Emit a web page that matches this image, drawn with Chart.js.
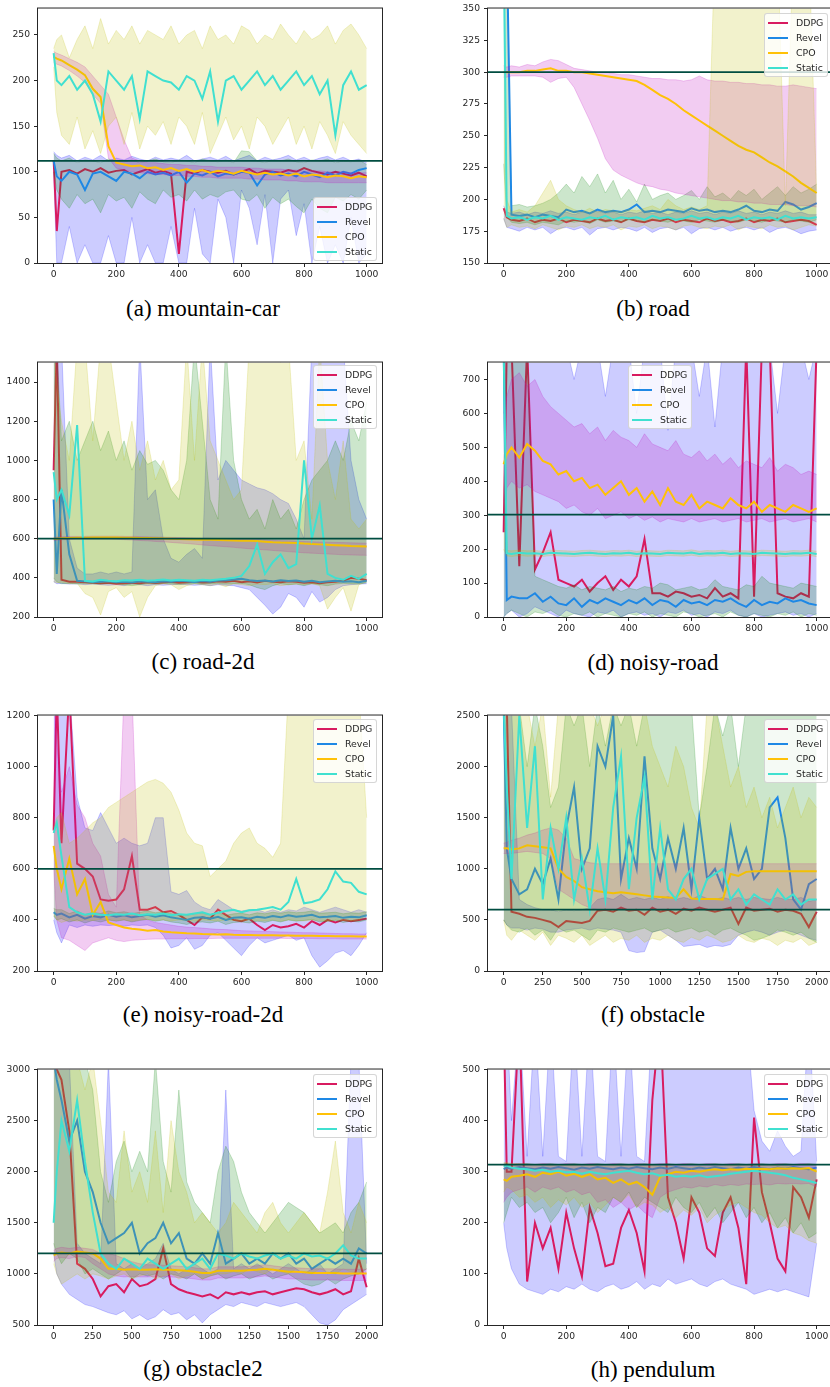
<!DOCTYPE html>
<html>
<head>
<meta charset="utf-8">
<title>Cost curves per environment</title>
<script src="https://cdn.jsdelivr.net/npm/chart.js@4.4.1/dist/chart.umd.min.js"></script>
<style>
  html, body { margin: 0; padding: 0; background: #fff; overflow: hidden; }
  body { width: 830px; height: 1387px; position: relative; font-family: "DejaVu Sans", sans-serif; }
  canvas.panel { position: absolute; }
  .caption {
    position: absolute; width: 300px; text-align: center; white-space: nowrap;
    font-family: "Liberation Serif", "Times New Roman", serif; font-size: 23px; line-height: 24px; color: #000;
  }
  .legend {
    position: absolute; box-sizing: border-box; width: 64px; padding: 1px 0 1px 3px;
    background: rgba(255,255,255,0.8); border: 1px solid rgba(204,204,204,0.8); border-radius: 3px;
  }
  .legend .row { height: 15px; display: flex; align-items: center; font-size: 9.4px; color: #262626; }
  .legend .swatch { display: block; width: 20px; height: 2px; margin-right: 8px; }
</style>
</head>
<body>
<script>
// ---------- Shared x grids / ticks ----------
var STEPS_1K = [0, 10, 25, 50, 75, 100, 125, 150, 175, 200, 225, 250, 275, 300,
  325, 350, 375, 400, 425, 450, 475, 500, 525, 550, 575, 600, 625, 650,
  675, 700, 725, 750, 775, 800, 825, 850, 875, 900, 925, 950, 975, 1000];
var STEPS_2K = [0, 20, 50, 100, 150, 200, 250, 300, 350, 400, 450, 500, 550, 600,
  650, 700, 750, 800, 850, 900, 950, 1000, 1050, 1100, 1150, 1200, 1250, 1300,
  1350, 1400, 1450, 1500, 1550, 1600, 1650, 1700, 1750, 1800, 1850, 1900, 1950, 2000];
var X_TICKS_1K = [0, 200, 400, 600, 800, 1000];
var X_TICKS_2K = [0, 250, 500, 750, 1000, 1250, 1500, 1750, 2000];

var ALGORITHMS = ["DDPG", "Revel", "CPO", "Static"];

// ---------- (a) mountain-car ----------
var MC_Y_TICKS = [0, 50, 100, 150, 200, 250];
var MC_LIMIT = 112;
var mcDdpg = [113, 35, 100, 102, 98, 103, 100, 104, 99, 101, 102, 97, 100, 103,
  99, 101, 98, 10, 100, 98, 102, 100, 99, 101, 97, 100, 103, 98,
  101, 100, 99, 102, 100, 104, 101, 99, 97, 100, 98, 96, 99, 95];
var mcDdpgHi = [122, 118, 115, 118, 112, 116, 113, 118, 112, 115, 113, 117, 114, 112,
  116, 113, 115, 113, 118, 112, 114, 116, 113, 117, 112, 115, 118, 112,
  116, 113, 115, 118, 113, 116, 112, 115, 117, 113, 116, 112, 114, 110];
var mcDdpgLo = [100, 0, 0, 40, 0, 20, 0, 0, 30, 0, 0, 50, 0, 20,
  0, 0, 40, 0, 0, 60, 10, 0, 70, 50, 0, 80, 60, 20,
  75, 0, 70, 80, 30, 65, 0, 40, 0, 20, 0, 50, 0, 10];
var mcRevel = [112, 95, 90, 100, 97, 80, 98, 100, 95, 90, 100, 98, 93, 100,
  97, 99, 96, 100, 88, 98, 96, 100, 95, 98, 97, 100, 99, 85,
  97, 100, 96, 98, 95, 100, 97, 94, 99, 96, 100, 98, 102, 104];
var mcRevelHi = [120, 115, 112, 115, 110, 113, 112, 110, 114, 112, 111, 113, 110, 112,
  114, 111, 110, 113, 112, 110, 114, 112, 111, 113, 110, 123, 122, 112,
  110, 113, 112, 114, 111, 110, 113, 112, 114, 110, 112, 111, 113, 108];
var mcRevelLo = [100, 80, 70, 60, 75, 65, 70, 55, 75, 68, 72, 60, 78, 70,
  65, 80, 72, 75, 68, 80, 70, 75, 72, 78, 80, 70, 68, 75,
  60, 72, 65, 70, 62, 55, 70, 60, 55, 72, 68, 75, 70, 80];
var mcCpo = [226, 224, 222, 217, 212, 206, 191, 182, 128, 110, 108, 106, 107, 104,
  105, 102, 104, 101, 103, 100, 102, 99, 101, 100, 98, 101, 99, 97,
  99, 97, 98, 96, 98, 95, 97, 96, 94, 96, 95, 93, 95, 94];
var mcCpoHi = [232, 230, 228, 224, 220, 215, 205, 195, 185, 160, 135, 115, 112, 110,
  110, 109, 108, 108, 107, 107, 106, 106, 105, 105, 105, 105, 104, 104,
  103, 103, 103, 102, 102, 101, 101, 101, 100, 100, 100, 99, 99, 99];
var mcCpoLo = [220, 218, 216, 211, 205, 198, 185, 175, 115, 104, 102, 100, 99, 98,
  97, 97, 96, 96, 95, 95, 94, 94, 93, 93, 93, 93, 92, 92,
  91, 91, 91, 90, 90, 89, 89, 89, 88, 88, 88, 88, 88, 88];
var mcStatic = [230, 200, 195, 205, 190, 200, 185, 155, 210, 200, 190, 205, 158, 210,
  205, 200, 198, 190, 205, 200, 180, 210, 155, 200, 205, 190, 200, 210,
  195, 205, 190, 200, 210, 195, 205, 185, 200, 140, 195, 210, 190, 195];
var mcStaticHi = [235, 245, 250, 225, 245, 260, 235, 268, 240, 255, 245, 260, 240, 255,
  250, 245, 260, 240, 250, 255, 235, 260, 245, 250, 240, 260, 255, 240,
  250, 245, 262, 250, 240, 255, 245, 250, 260, 240, 255, 262, 250, 235];
var mcStaticLo = [215, 165, 140, 130, 160, 125, 145, 120, 150, 160, 130, 165, 125, 150,
  140, 155, 130, 160, 150, 130, 165, 120, 140, 160, 135, 150, 125, 160,
  150, 130, 145, 160, 130, 150, 125, 155, 140, 120, 155, 140, 130, 120];

// ---------- (b) road ----------
var RD_Y_TICKS = [150, 175, 200, 225, 250, 275, 300, 325, 350];
var RD_LIMIT = 300;
var rdDdpg = [193, 186, 184, 183, 185, 182, 184, 183, 185, 182, 184, 183, 182, 185,
  183, 184, 182, 185, 183, 182, 184, 183, 185, 182, 184, 183, 182, 185,
  183, 184, 182, 183, 185, 182, 184, 183, 185, 182, 183, 184, 183, 180];
var rdDdpgHi = [195, 190, 189, 190, 188, 190, 189, 191, 189, 190, 188, 190, 189, 191,
  189, 190, 188, 190, 189, 191, 189, 190, 188, 190, 189, 191, 189, 190,
  188, 190, 189, 191, 189, 190, 188, 190, 189, 191, 189, 190, 188, 188];
var rdDdpgLo = [185, 178, 177, 175, 178, 176, 178, 173, 177, 178, 176, 178, 172, 177,
  178, 176, 178, 177, 175, 178, 174, 177, 178, 176, 178, 173, 177, 178,
  176, 178, 175, 177, 178, 176, 178, 174, 177, 178, 176, 173, 175, 176];
var rdRevel = [400, 400, 188, 187, 188, 186, 188, 187, 186, 192, 190, 191, 189, 192,
  190, 191, 190, 192, 196, 190, 191, 190, 192, 191, 190, 193, 191, 192,
  190, 191, 190, 192, 195, 191, 190, 192, 191, 198, 196, 192, 194, 197];
var rdRevelHi = [400, 400, 195, 196, 194, 195, 197, 200, 205, 212, 205, 218, 210, 220,
  205, 215, 200, 208, 198, 212, 200, 203, 205, 200, 203, 207, 200, 210,
  202, 205, 200, 207, 203, 208, 200, 205, 210, 203, 210, 205, 208, 212];
var rdRevelLo = [228, 186, 182, 181, 182, 180, 182, 181, 180, 183, 182, 183, 181, 184,
  182, 183, 182, 184, 183, 182, 184, 183, 182, 184, 183, 182, 184, 183,
  182, 184, 183, 182, 184, 183, 182, 184, 183, 182, 184, 183, 182, 184];
var rdCpo = [300, 300, 300, 300, 301, 301, 302, 303, 301, 301, 300, 300, 299, 298,
  297, 296, 295, 294, 293, 290, 286, 282, 279, 275, 270, 266, 262, 258,
  254, 250, 246, 242, 239, 237, 233, 229, 226, 222, 218, 213, 209, 205];
var rdCpoHi = [305, 304, 305, 304, 306, 305, 308, 310, 309, 306, 303, 302, 301, 300,
  300, 299, 298, 298, 297, 296, 295, 295, 294, 294, 293, 294, 297, 294,
  293, 293, 292, 292, 291, 291, 290, 290, 289, 289, 290, 289, 288, 287];
var rdCpoLo = [296, 296, 297, 297, 297, 297, 296, 292, 295, 296, 288, 275, 262, 248,
  232, 223, 219, 216, 213, 211, 210, 208, 207, 205, 204, 203, 202, 201,
  200, 199, 199, 198, 198, 197, 197, 196, 196, 196, 195, 195, 195, 194];
var rdStatic = [400, 187, 185, 186, 184, 186, 185, 187, 184, 186, 185, 184, 186, 185,
  187, 184, 186, 185, 186, 184, 187, 185, 186, 184, 185, 187, 185, 186,
  184, 186, 185, 187, 184, 186, 185, 186, 184, 187, 185, 186, 185, 186];
var rdStaticHi = [400, 200, 190, 192, 190, 195, 205, 215, 200, 195, 192, 190, 193, 190,
  192, 191, 190, 192, 191, 193, 195, 192, 200, 195, 192, 194, 192, 195,
  400, 400, 400, 400, 400, 400, 400, 400, 400, 195, 400, 400, 400, 205];
var rdStaticLo = [185, 178, 180, 178, 179, 177, 180, 178, 176, 179, 178, 180, 177, 179,
  178, 180, 176, 179, 178, 180, 177, 179, 178, 176, 179, 180, 178, 177,
  179, 178, 180, 176, 179, 178, 177, 180, 178, 179, 176, 178, 180, 179];

// ---------- (c) road-2d ----------
var R2_Y_TICKS = [200, 400, 600, 800, 1000, 1200, 1400];
var R2_LIMIT = 600;
var r2Ddpg = [950, 1600, 390, 380, 380, 378, 375, 372, 375, 370, 373, 375, 372, 378,
  374, 376, 380, 375, 378, 380, 376, 378, 382, 380, 385, 378, 382, 376,
  385, 380, 378, 382, 380, 375, 378, 372, 378, 380, 385, 400, 395, 388];
var r2DdpgHi = [1600, 1600, 1600, 600, 450, 420, 420, 430, 420, 430, 420, 430, 1600, 800,
  850, 600, 500, 480, 520, 550, 500, 1600, 900, 1000, 950, 900, 880, 860,
  850, 830, 800, 780, 700, 600, 1600, 1600, 1600, 1600, 1600, 1000, 800, 700];
var r2DdpgLo = [380, 370, 372, 368, 370, 365, 368, 365, 362, 365, 360, 368, 365, 360,
  365, 362, 365, 368, 365, 362, 365, 360, 365, 362, 360, 350, 340, 300,
  260, 215, 250, 320, 300, 250, 330, 276, 300, 340, 360, 365, 368, 370];
var r2Revel = [800, 420, 850, 520, 385, 382, 378, 380, 383, 378, 380, 376, 382, 380,
  378, 383, 380, 385, 382, 378, 384, 380, 386, 388, 392, 395, 388, 384,
  386, 382, 388, 384, 386, 380, 385, 378, 382, 385, 380, 383, 378, 385];
var r2RevelHi = [1600, 1600, 1100, 1200, 1000, 1100, 1200, 1050, 1150, 1000, 1100, 950, 1050, 980,
  1000, 950, 850, 800, 1000, 1600, 1200, 800, 700, 1600, 1000, 800, 700, 750,
  650, 800, 700, 750, 650, 800, 900, 950, 1000, 1100, 1000, 1200, 1100, 1300];
var r2RevelLo = [400, 380, 370, 372, 368, 372, 370, 368, 372, 370, 365, 360, 365, 370,
  368, 372, 370, 365, 370, 372, 368, 370, 372, 368, 370, 372, 365, 350,
  340, 360, 370, 365, 368, 360, 370, 365, 360, 368, 372, 370, 368, 375];
var r2Cpo = [600, 600, 602, 604, 605, 605, 606, 606, 606, 606, 605, 605, 604, 603,
  602, 601, 600, 598, 597, 596, 595, 594, 593, 592, 591, 590, 589, 588,
  585, 582, 580, 579, 578, 575, 573, 571, 569, 567, 565, 563, 562, 560];
var r2CpoHi = [608, 608, 610, 612, 612, 612, 613, 613, 613, 613, 612, 612, 611, 610,
  609, 608, 607, 606, 605, 604, 603, 602, 601, 600, 599, 598, 597, 596,
  594, 592, 590, 589, 588, 586, 584, 583, 582, 581, 580, 579, 578, 577];
var r2CpoLo = [590, 592, 594, 596, 598, 598, 598, 598, 598, 597, 595, 593, 591, 589,
  586, 584, 581, 578, 575, 572, 568, 565, 562, 559, 556, 552, 549, 546,
  543, 540, 537, 534, 531, 528, 526, 524, 522, 520, 518, 517, 516, 515];
var r2Static = [940, 800, 850, 720, 1180, 385, 382, 390, 385, 383, 388, 386, 390, 385,
  388, 392, 386, 390, 388, 385, 390, 388, 392, 395, 400, 410, 460, 570,
  420, 480, 520, 450, 470, 1000, 600, 770, 420, 400, 390, 410, 395, 420];
var r2StaticHi = [1600, 1400, 1200, 1000, 1600, 1600, 1100, 1600, 1600, 1300, 1000, 1200, 950, 1100,
  900, 1000, 850, 900, 1600, 1000, 1600, 1100, 1000, 900, 800, 850, 1600, 1600,
  1600, 1600, 1500, 1600, 1000, 1100, 700, 1600, 1000, 800, 1100, 700, 650, 700];
var r2StaticLo = [380, 375, 378, 370, 372, 320, 300, 210, 330, 350, 300, 330, 200, 300,
  360, 370, 365, 340, 360, 370, 365, 360, 368, 355, 370, 365, 360, 368,
  365, 370, 360, 365, 368, 365, 370, 360, 240, 300, 350, 230, 365, 380];

// ---------- (d) noisy-road ----------
var NR_Y_TICKS = [0, 100, 200, 300, 400, 500, 600, 700];
var NR_LIMIT = 302;
var nrDdpg = [250, 800, 800, 150, 800, 140, 190, 250, 110, 100, 90, 110, 75, 100,
  120, 80, 110, 90, 120, 230, 70, 70, 60, 75, 70, 60, 65, 55,
  85, 60, 70, 55, 800, 60, 800, 800, 70, 60, 55, 70, 60, 800];
var nrDdpgHi = [800, 800, 800, 800, 800, 800, 800, 800, 800, 800, 700, 800, 800, 800,
  650, 800, 800, 800, 600, 800, 800, 800, 550, 800, 800, 800, 650, 800,
  560, 800, 800, 800, 800, 800, 800, 800, 600, 800, 800, 800, 700, 800];
var nrDdpgLo = [0, 10, 20, 0, 10, 30, 20, 10, 0, 20, 10, 5, 0, 15,
  10, 20, 0, 10, 15, 5, 10, 0, 15, 10, 20, 5, 10, 0,
  15, 10, 20, 5, 0, 10, 0, 5, 10, 15, 5, 10, 0, 10];
var nrRevel = [800, 50, 60, 55, 55, 70, 45, 60, 40, 35, 55, 30, 50, 40,
  55, 45, 35, 50, 40, 55, 35, 50, 45, 30, 50, 40, 45, 35,
  50, 45, 55, 40, 30, 50, 35, 45, 40, 55, 45, 50, 40, 35];
var nrRevelHi = [800, 800, 800, 800, 800, 120, 110, 100, 90, 85, 95, 80, 90, 85,
  80, 90, 75, 85, 80, 90, 85, 100, 95, 80, 85, 90, 80, 85,
  110, 90, 85, 80, 95, 90, 120, 100, 95, 90, 85, 100, 95, 90];
var nrRevelLo = [0, 10, 20, 10, 0, 15, 10, 20, 5, 0, 10, 5, 15, 0,
  10, 5, 0, 10, 5, 15, 0, 10, 5, 0, 15, 10, 0, 5,
  10, 0, 15, 5, 0, 10, 5, 0, 10, 5, 15, 0, 10, 5];
var nrCpo = [450, 480, 500, 470, 510, 490, 460, 450, 420, 430, 400, 410, 380, 390,
  360, 380, 400, 360, 380, 340, 370, 330, 380, 340, 330, 360, 320, 340,
  330, 320, 350, 330, 320, 340, 310, 330, 320, 310, 330, 320, 310, 320];
var nrCpoHi = [600, 650, 700, 720, 680, 700, 650, 620, 600, 580, 560, 570, 540, 560,
  520, 550, 530, 520, 500, 540, 510, 500, 490, 520, 480, 470, 490, 460,
  480, 450, 470, 440, 460, 450, 440, 470, 430, 450, 440, 420, 430, 420];
var nrCpoLo = [250, 380, 400, 380, 390, 370, 360, 350, 340, 320, 330, 310, 300, 320,
  290, 300, 310, 290, 300, 285, 295, 280, 290, 285, 280, 290, 280, 285,
  290, 280, 285, 290, 280, 285, 290, 280, 285, 290, 280, 285, 290, 280];
var nrStatic = [800, 188, 186, 189, 187, 188, 186, 189, 188, 187, 186, 188, 189, 187,
  186, 188, 187, 189, 186, 188, 187, 186, 189, 188, 187, 190, 186, 188,
  187, 189, 186, 188, 187, 186, 189, 188, 187, 186, 188, 187, 189, 186];
var nrStaticHi = [800, 196, 195, 197, 195, 196, 194, 197, 196, 195, 194, 196, 197, 195,
  194, 196, 195, 197, 194, 196, 195, 194, 197, 196, 195, 198, 194, 196,
  195, 197, 194, 196, 195, 194, 197, 196, 195, 194, 196, 195, 197, 194];
var nrStaticLo = [200, 180, 178, 181, 179, 180, 178, 181, 180, 179, 178, 180, 181, 179,
  178, 180, 179, 181, 178, 180, 179, 178, 181, 180, 179, 182, 178, 180,
  179, 181, 178, 180, 179, 178, 181, 180, 179, 178, 180, 179, 181, 178];

// ---------- (e) noisy-road-2d ----------
var N2_Y_TICKS = [200, 400, 600, 800, 1000, 1200];
var N2_LIMIT = 600;
var n2Ddpg = [750, 1300, 700, 1300, 620, 600, 570, 480, 475, 480, 520, 650, 440, 440,
  450, 430, 435, 420, 400, 380, 410, 405, 440, 420, 400, 395, 405, 380,
  360, 380, 370, 375, 385, 370, 395, 380, 400, 390, 400, 395, 400, 405];
var n2DdpgHi = [1300, 1300, 1300, 1300, 880, 760, 750, 820, 760, 700, 720, 700, 690, 700,
  800, 800, 510, 500, 515, 470, 450, 440, 480, 460, 440, 435, 440, 440,
  430, 440, 430, 440, 435, 450, 440, 430, 440, 450, 440, 430, 440, 430];
var n2DdpgLo = [400, 350, 310, 380, 370, 380, 375, 380, 378, 380, 375, 380, 378, 380,
  370, 340, 290, 300, 330, 285, 300, 340, 350, 320, 290, 260, 300, 330,
  310, 320, 330, 340, 320, 330, 260, 215, 240, 270, 280, 260, 300, 350];
var n2Revel = [430, 420, 425, 410, 420, 405, 415, 410, 420, 412, 418, 410, 415, 420,
  412, 418, 410, 405, 400, 408, 410, 405, 412, 400, 408, 410, 405, 412,
  408, 415, 410, 418, 412, 415, 420, 410, 412, 415, 408, 412, 410, 418];
var n2RevelHi = [445, 440, 440, 425, 435, 420, 430, 425, 435, 428, 432, 425, 430, 435,
  428, 432, 425, 420, 418, 424, 426, 420, 428, 418, 424, 426, 420, 428,
  424, 430, 426, 432, 428, 430, 435, 426, 428, 430, 424, 428, 426, 432];
var n2RevelLo = [415, 400, 405, 392, 400, 388, 398, 392, 400, 395, 400, 392, 398, 402,
  395, 400, 392, 388, 382, 390, 392, 388, 395, 382, 390, 392, 388, 395,
  390, 398, 392, 400, 395, 398, 402, 392, 395, 398, 390, 395, 392, 400];
var n2Cpo = [690, 600, 520, 640, 500, 560, 420, 470, 390, 380, 370, 365, 362, 358,
  360, 355, 352, 350, 348, 347, 345, 344, 343, 344, 342, 341, 341, 340,
  340, 340, 339, 339, 338, 338, 338, 337, 337, 336, 336, 336, 335, 335];
var n2CpoHi = [1300, 1100, 900, 1000, 850, 800, 700, 650, 500, 450, 1300, 1300, 420, 400,
  390, 385, 380, 375, 372, 370, 368, 365, 363, 362, 360, 358, 357, 356,
  355, 354, 353, 352, 351, 350, 350, 349, 348, 347, 346, 346, 345, 345];
var n2CpoLo = [600, 400, 330, 320, 300, 280, 310, 320, 330, 320, 315, 320, 322, 324,
  325, 325, 326, 326, 326, 327, 327, 327, 328, 328, 328, 328, 328, 328,
  328, 328, 328, 327, 327, 327, 327, 326, 326, 326, 325, 325, 325, 325];
var n2Static = [740, 780, 650, 450, 430, 420, 425, 420, 418, 422, 420, 425, 418, 422,
  420, 425, 418, 422, 420, 425, 430, 420, 428, 435, 440, 430, 438, 440,
  445, 450, 440, 470, 560, 465, 470, 480, 520, 590, 550, 545, 510, 500];
var n2StaticHi = [760, 800, 820, 700, 720, 750, 780, 800, 840, 860, 880, 900, 920, 940,
  950, 935, 900, 830, 740, 700, 690, 570, 600, 630, 700, 740, 760, 700,
  680, 645, 700, 1300, 1300, 1300, 1300, 1300, 1300, 1300, 1300, 1300, 1300, 800];
var n2StaticLo = [420, 400, 390, 400, 395, 400, 398, 402, 400, 398, 400, 395, 400, 402,
  398, 400, 396, 400, 398, 395, 400, 398, 396, 400, 398, 395, 400, 398,
  396, 400, 395, 400, 398, 396, 400, 398, 395, 400, 398, 396, 400, 420];

// ---------- (f) obstacle ----------
var OB_Y_TICKS = [0, 500, 1000, 1500, 2000, 2500];
var OB_LIMIT = 600;
var obDdpg = [2600, 2600, 580, 560, 530, 520, 500, 480, 430, 490, 480, 470, 490, 590,
  600, 580, 620, 590, 600, 550, 620, 580, 600, 560, 610, 590, 620, 600,
  580, 600, 620, 460, 620, 590, 600, 610, 580, 600, 590, 560, 430, 580];
var obDdpgHi = [2600, 2600, 2600, 700, 650, 620, 600, 600, 580, 600, 590, 600, 620, 700,
  720, 700, 750, 700, 720, 700, 720, 700, 730, 700, 720, 700, 740, 710,
  700, 720, 700, 720, 700, 720, 710, 700, 720, 700, 700, 720, 680, 700];
var obDdpgLo = [500, 450, 420, 420, 400, 420, 410, 380, 380, 400, 410, 420, 400, 420,
  410, 400, 380, 200, 180, 190, 380, 400, 350, 300, 240, 250, 260, 230,
  250, 240, 260, 350, 380, 400, 380, 350, 380, 400, 380, 350, 320, 300];
var obRevel = [2600, 1200, 900, 750, 800, 1000, 850, 1100, 700, 1400, 1800, 1000, 1200, 2200,
  2000, 2500, 900, 1300, 1000, 2100, 1200, 900, 1300, 1000, 1400, 800, 1500, 900,
  1000, 800, 1400, 1000, 1200, 900, 1000, 1600, 1700, 1300, 700, 600, 850, 900];
var obRevelHi = [2600, 2600, 2600, 2600, 2000, 2600, 2200, 1600, 1800, 2600, 2400, 2600, 2000, 2600,
  2200, 2600, 2400, 2600, 2200, 2600, 2600, 2600, 2600, 2600, 2600, 2600, 1500, 2000,
  2600, 2300, 2600, 2000, 2600, 2600, 2600, 2600, 2600, 2600, 2600, 2600, 2600, 2600];
var obRevelLo = [500, 450, 400, 380, 420, 350, 400, 300, 420, 380, 400, 350, 300, 400,
  380, 420, 400, 380, 400, 420, 380, 400, 420, 380, 400, 420, 380, 400,
  350, 400, 420, 380, 350, 300, 320, 350, 400, 380, 350, 380, 320, 280];
var obCpo = [1200, 1200, 1190, 1200, 1230, 1220, 1210, 1200, 1000, 920, 880, 820, 800, 780,
  770, 760, 770, 760, 750, 740, 730, 725, 720, 718, 800, 710, 705, 705,
  705, 700, 950, 930, 970, 975, 975, 975, 975, 975, 975, 975, 975, 975];
var obCpoHi = [1250, 1260, 1280, 1300, 1330, 1350, 1380, 1400, 1380, 1300, 1100, 1080, 1060, 1050,
  1050, 1050, 1050, 1050, 1050, 1050, 1050, 1050, 1050, 1050, 1050, 1050, 1050, 1050,
  1050, 1050, 1050, 1050, 1050, 1050, 1050, 1050, 1050, 1050, 1050, 1050, 1050, 1050];
var obCpoLo = [1150, 1150, 1150, 1160, 1170, 1160, 1150, 1100, 800, 750, 700, 650, 620, 600,
  600, 600, 600, 600, 600, 600, 600, 600, 600, 600, 600, 600, 600, 600,
  600, 600, 600, 600, 600, 600, 600, 600, 600, 600, 600, 600, 600, 600];
var obStatic = [2600, 1800, 900, 2500, 1400, 2200, 700, 1400, 1000, 1500, 700, 1100, 600, 1200,
  700, 1600, 2100, 800, 1500, 1900, 700, 1400, 800, 700, 900, 1000, 700, 900,
  950, 1000, 700, 800, 650, 750, 700, 650, 800, 700, 750, 650, 700, 700];
var obStaticHi = [2600, 2600, 2600, 2600, 2600, 2200, 2600, 1700, 2600, 2600, 2600, 2600, 2600, 2400,
  2600, 2600, 2600, 2600, 2600, 2600, 2200, 2000, 1800, 2200, 2000, 1600, 1400, 2600,
  2600, 2200, 1800, 2000, 1600, 1800, 1500, 1700, 1400, 1600, 1800, 1500, 1700, 1600];
var obStaticLo = [500, 350, 300, 400, 350, 300, 380, 250, 350, 320, 280, 350, 250, 300,
  350, 280, 320, 300, 350, 280, 320, 300, 350, 300, 280, 330, 300, 350,
  320, 280, 300, 350, 300, 280, 320, 300, 250, 300, 280, 320, 250, 280];

// ---------- (g) obstacle2 ----------
var O2_Y_TICKS = [500, 1000, 1500, 2000, 2500, 3000];
var O2_LIMIT = 1200;
var o2Ddpg = [3100, 3000, 2900, 2400, 1100, 1050, 950, 780, 880, 900, 820, 950, 880, 900,
  950, 1250, 900, 850, 820, 800, 780, 800, 760, 820, 800, 820, 800, 820,
  830, 800, 820, 840, 860, 850, 820, 800, 820, 850, 800, 830, 1150, 870];
var o2DdpgHi = [3100, 3100, 3100, 3100, 1300, 1200, 1150, 1100, 3100, 1100, 1050, 1100, 1050, 1100,
  1150, 1300, 1050, 1000, 1050, 1100, 1050, 1000, 1050, 2800, 1050, 1100, 1050, 1100,
  1050, 1000, 1050, 1100, 1050, 1000, 1050, 1100, 1000, 1050, 1100, 3100, 3100, 1100];
var o2DdpgLo = [1200, 1000, 900, 800, 750, 700, 680, 650, 620, 600, 640, 560, 600, 550,
  580, 650, 600, 620, 550, 600, 520, 600, 650, 700, 680, 720, 700, 680,
  720, 700, 680, 700, 720, 680, 600, 520, 500, 550, 650, 700, 750, 800];
var o2Revel = [3100, 2900, 2700, 2300, 2500, 2000, 1800, 1500, 1300, 1350, 1400, 1500, 1200, 1300,
  1350, 1500, 1300, 1400, 1150, 1100, 1200, 1100, 1400, 1100, 1150, 1200, 1100, 1150,
  1100, 1200, 1150, 1200, 1100, 1150, 1050, 1100, 1150, 1100, 1150, 1100, 1250, 1200];
var o2RevelHi = [3100, 3100, 3100, 3100, 3100, 3100, 2800, 2000, 1700, 2100, 2300, 2000, 2200, 2000,
  3100, 2100, 1800, 2800, 1900, 1700, 1600, 1500, 2000, 2250, 2100, 1800, 1600, 1500,
  1400, 1500, 1600, 1700, 1650, 1600, 1500, 1400, 1450, 1500, 1400, 1600, 1700, 1900];
var o2RevelLo = [1300, 1200, 1100, 1200, 1150, 1000, 1050, 1000, 950, 1000, 1050, 950, 1000, 980,
  1000, 950, 1000, 980, 950, 1000, 950, 980, 1000, 950, 980, 1000, 950, 980,
  1000, 950, 980, 1000, 950, 900, 880, 900, 950, 900, 950, 980, 1000, 1050];
var o2Cpo = [1180, 1200, 1210, 1200, 1220, 1210, 1200, 1150, 1050, 1050, 1040, 1045, 1040, 1040,
  1045, 1040, 1040, 1035, 1030, 1020, 1010, 1010, 1030, 1030, 1030, 1030, 1035, 1040,
  1050, 1040, 1030, 1020, 1020, 1015, 1010, 1010, 1010, 1010, 1005, 1005, 1005, 1005];
var o2CpoHi = [1230, 1250, 1260, 1250, 1260, 1250, 1240, 1200, 1200, 1180, 1150, 1120, 1100, 1090,
  1090, 1085, 1080, 1075, 1070, 1060, 1050, 1050, 1070, 1070, 1070, 1070, 1075, 1080,
  1090, 1080, 1070, 1060, 1060, 1055, 1050, 1050, 1050, 1050, 1045, 1045, 1045, 1045];
var o2CpoLo = [1120, 1150, 1160, 1150, 1170, 1160, 1100, 1050, 1000, 980, 970, 975, 970, 970,
  975, 970, 970, 965, 960, 950, 940, 940, 960, 960, 960, 960, 965, 970,
  980, 970, 960, 950, 950, 945, 940, 940, 940, 940, 935, 935, 935, 935];
var o2Static = [1500, 2000, 2500, 2200, 2700, 2100, 1600, 1200, 1100, 1050, 1150, 1100, 1050, 1150,
  1100, 1050, 1100, 1150, 1050, 1100, 1150, 1050, 1200, 1180, 1150, 1200, 1170, 1150,
  1180, 1200, 1150, 1180, 1150, 1200, 1170, 1180, 1150, 1200, 1280, 1180, 1150, 1150];
var o2StaticHi = [3100, 3100, 3100, 3100, 3100, 2800, 3100, 2500, 1800, 1700, 2400, 1800, 2000, 1700,
  2400, 1600, 2500, 2000, 1800, 1500, 1600, 1500, 1400, 1500, 1700, 1600, 1500, 1400,
  1600, 1700, 1500, 1400, 1500, 1600, 1500, 1400, 1800, 2300, 1600, 1400, 1700, 1500];
var o2StaticLo = [1100, 1000, 900, 950, 1000, 950, 1000, 980, 950, 980, 1000, 950, 980, 1000,
  950, 980, 1000, 950, 980, 1000, 950, 980, 1000, 1000, 1020, 1000, 1050, 1020,
  1000, 1050, 1020, 1000, 1050, 1020, 1000, 1050, 1020, 1000, 1050, 1020, 1000, 1050];

// ---------- (h) pendulum ----------
var PD_Y_TICKS = [0, 100, 200, 300, 400, 500];
var PD_LIMIT = 314;
var pdDdpg = [600, 300, 300, 600, 85, 200, 150, 190, 110, 220, 150, 95, 230, 180,
  115, 120, 190, 225, 180, 105, 440, 600, 250, 200, 130, 250, 220, 150,
  135, 220, 250, 190, 80, 406, 260, 200, 130, 105, 270, 250, 210, 285];
var pdDdpgHi = [600, 600, 400, 600, 330, 600, 330, 600, 330, 320, 600, 330, 600, 330,
  320, 600, 330, 600, 330, 320, 600, 600, 600, 600, 600, 600, 600, 600,
  600, 600, 600, 600, 600, 420, 360, 340, 380, 350, 330, 340, 600, 320];
var pdDdpgLo = [200, 150, 110, 80, 70, 65, 60, 70, 65, 75, 70, 80, 70, 65,
  75, 80, 70, 75, 85, 70, 80, 75, 90, 80, 85, 90, 80, 75,
  85, 90, 80, 75, 70, 60, 65, 70, 65, 70, 65, 60, 55, 160];
var pdRevel = [305, 308, 306, 309, 307, 305, 308, 306, 309, 307, 304, 308, 306, 309,
  307, 305, 308, 306, 309, 307, 305, 308, 306, 309, 307, 305, 308, 306,
  309, 307, 305, 308, 306, 309, 307, 305, 308, 306, 309, 307, 305, 308];
var pdRevelHi = [315, 316, 314, 315, 316, 314, 315, 316, 314, 315, 316, 314, 315, 316,
  314, 315, 316, 314, 315, 316, 314, 315, 316, 314, 315, 316, 314, 315,
  316, 314, 315, 316, 314, 315, 316, 314, 315, 316, 314, 315, 316, 314];
var pdRevelLo = [200, 220, 250, 230, 240, 220, 230, 200, 220, 250, 210, 240, 200, 230,
  220, 250, 240, 260, 230, 250, 240, 230, 220, 250, 230, 220, 240, 210,
  230, 200, 220, 240, 210, 230, 200, 220, 190, 210, 180, 200, 170, 180];
var pdCpo = [285, 282, 290, 292, 295, 290, 298, 295, 300, 292, 296, 290, 295, 285,
  288, 278, 285, 275, 280, 270, 255, 290, 295, 300, 298, 302, 300, 303,
  305, 303, 305, 304, 306, 305, 306, 305, 307, 306, 307, 306, 307, 300];
var pdCpoHi = [315, 314, 315, 316, 315, 314, 316, 315, 314, 316, 315, 314, 316, 315,
  314, 316, 315, 314, 316, 315, 314, 316, 315, 314, 316, 315, 314, 316,
  315, 314, 316, 315, 314, 316, 315, 314, 316, 315, 314, 316, 315, 314];
var pdCpoLo = [240, 250, 260, 265, 270, 260, 270, 265, 270, 260, 265, 255, 260, 240,
  245, 230, 240, 225, 235, 220, 210, 250, 260, 265, 270, 268, 272, 270,
  275, 272, 275, 273, 276, 275, 276, 274, 277, 276, 277, 276, 277, 270];
var pdStatic = [310, 312, 308, 306, 305, 302, 304, 300, 302, 299, 300, 296, 300, 297,
  295, 298, 300, 302, 298, 295, 297, 292, 294, 290, 292, 290, 293, 289,
  291, 293, 296, 298, 300, 302, 300, 298, 296, 293, 288, 285, 282, 278];
var pdStaticHi = [318, 318, 316, 316, 315, 314, 315, 313, 314, 312, 313, 311, 313, 312,
  311, 312, 313, 314, 312, 311, 312, 310, 311, 309, 310, 309, 311, 309,
  310, 311, 312, 313, 314, 315, 314, 313, 312, 311, 309, 308, 306, 304];
var pdStaticLo = [260, 270, 265, 250, 255, 240, 250, 230, 245, 235, 250, 230, 240, 220,
  235, 250, 240, 255, 230, 240, 235, 220, 230, 210, 225, 215, 230, 200,
  215, 225, 235, 240, 230, 220, 215, 200, 190, 195, 180, 175, 165, 160];

(function () {
  "use strict";

  // ---------- Styling ----------
  var LINE_COLOURS = ["#D81B60", "#1E88E5", "#FFC107", "#40E0D0"];
  // matplotlib 'b', 'g', 'm', 'y' at alpha 0.2
  var BAND_COLOURS = ["rgba(0,0,255,0.2)", "rgba(0,128,0,0.2)", "rgba(191,0,191,0.2)", "rgba(191,191,0,0.2)"];
  var LIMIT_COLOUR = "#004D40";
  var AXIS_COLOUR = "#262626";
  var TICK_FONT = { family: "'DejaVu Sans', sans-serif", size: 9.2 };

  // ---------- Panel layout ----------
  // left column canvases start at x=0, right column at x=450; plot area is inset
  // by the fixed y-axis width (38) and 8px of top/right padding.
  var PANELS = [
    { xs: STEPS_1K, xMin: -50, xMax: 1049, xTicks: X_TICKS_1K, yMin: 0, yMax: 279, yTicks: MC_Y_TICKS, limit: MC_LIMIT,
      series: [[mcDdpg, mcDdpgHi, mcDdpgLo], [mcRevel, mcRevelHi, mcRevelLo], [mcCpo, mcCpoHi, mcCpoLo], [mcStatic, mcStaticHi, mcStaticLo]],
      left: 0, top: -1, height: 286, caption: "(a) mountain-car", capY: 297, legend: [313, 197] },
    { xs: STEPS_1K, xMin: -50, xMax: 1049, xTicks: X_TICKS_1K, yMin: 150, yMax: 350, yTicks: RD_Y_TICKS, limit: RD_LIMIT,
      series: [[rdDdpg, rdDdpgHi, rdDdpgLo], [rdRevel, rdRevelHi, rdRevelLo], [rdCpo, rdCpoHi, rdCpoLo], [rdStatic, rdStaticHi, rdStaticLo]],
      left: 450, top: -1, height: 286, caption: "(b) road", capY: 297, legend: [764, 13] },
    { xs: STEPS_1K, xMin: -50, xMax: 1049, xTicks: X_TICKS_1K, yMin: 200, yMax: 1500, yTicks: R2_Y_TICKS, limit: R2_LIMIT,
      series: [[r2Ddpg, r2DdpgHi, r2DdpgLo], [r2Revel, r2RevelHi, r2RevelLo], [r2Cpo, r2CpoHi, r2CpoLo], [r2Static, r2StaticHi, r2StaticLo]],
      left: 0, top: 353, height: 286, caption: "(c) road-2d", capY: 650, legend: [313, 365] },
    { xs: STEPS_1K, xMin: -50, xMax: 1049, xTicks: X_TICKS_1K, yMin: 0, yMax: 750, yTicks: NR_Y_TICKS, limit: NR_LIMIT,
      series: [[nrDdpg, nrDdpgHi, nrDdpgLo], [nrRevel, nrRevelHi, nrRevelLo], [nrCpo, nrCpoHi, nrCpoLo], [nrStatic, nrStaticHi, nrStaticLo]],
      left: 450, top: 353, height: 286, caption: "(d) noisy-road", capY: 651, legend: [628, 365] },
    { xs: STEPS_1K, xMin: -50, xMax: 1049, xTicks: X_TICKS_1K, yMin: 200, yMax: 1200, yTicks: N2_Y_TICKS, limit: N2_LIMIT,
      series: [[n2Ddpg, n2DdpgHi, n2DdpgLo], [n2Revel, n2RevelHi, n2RevelLo], [n2Cpo, n2CpoHi, n2CpoLo], [n2Static, n2StaticHi, n2StaticLo]],
      left: 0, top: 706, height: 287, caption: "(e) noisy-road-2d", capY: 1003, legend: [313, 719] },
    { xs: STEPS_2K, xMin: -100, xMax: 2098, xTicks: X_TICKS_2K, yMin: 0, yMax: 2500, yTicks: OB_Y_TICKS, limit: OB_LIMIT,
      series: [[obDdpg, obDdpgHi, obDdpgLo], [obRevel, obRevelHi, obRevelLo], [obCpo, obCpoHi, obCpoLo], [obStatic, obStaticHi, obStaticLo]],
      left: 450, top: 706, height: 287, caption: "(f) obstacle", capY: 1003, legend: [764, 719] },
    { xs: STEPS_2K, xMin: -100, xMax: 2098, xTicks: X_TICKS_2K, yMin: 500, yMax: 3000, yTicks: O2_Y_TICKS, limit: O2_LIMIT,
      series: [[o2Ddpg, o2DdpgHi, o2DdpgLo], [o2Revel, o2RevelHi, o2RevelLo], [o2Cpo, o2CpoHi, o2CpoLo], [o2Static, o2StaticHi, o2StaticLo]],
      left: 0, top: 1060, height: 287, caption: "(g) obstacle2", capY: 1357, legend: [313, 1074] },
    { xs: STEPS_1K, xMin: -50, xMax: 1049, xTicks: X_TICKS_1K, yMin: 0, yMax: 500, yTicks: PD_Y_TICKS, limit: PD_LIMIT,
      series: [[pdDdpg, pdDdpgHi, pdDdpgLo], [pdRevel, pdRevelHi, pdRevelLo], [pdCpo, pdCpoHi, pdCpoLo], [pdStatic, pdStaticHi, pdStaticLo]],
      left: 450, top: 1060, height: 287, caption: "(h) pendulum", capY: 1358, legend: [764, 1074] }
  ];

  // ---------- Helpers ----------
  function points(xs, ys) {
    return xs.map(function (x, i) { return { x: x, y: ys[i] }; });
  }

  function fixedTicks(values) {
    return function (scale) {
      scale.ticks = values.map(function (v) { return { value: v }; });
    };
  }

  // spines on all four sides, drawn over the data like matplotlib
  var framePlugin = {
    id: "frame",
    afterDatasetsDraw: function (chart) {
      var a = chart.chartArea;
      var ctx = chart.ctx;
      ctx.save();
      ctx.strokeStyle = AXIS_COLOUR;
      ctx.lineWidth = 1;
      ctx.strokeRect(a.left - 0.5, a.top - 0.5, a.right - a.left + 1, a.bottom - a.top + 1);
      ctx.restore();
    }
  };

  function buildDatasets(p) {
    var list = [];
    p.series.forEach(function (s, k) {
      // band first (upper edge, then lower edge filled back to it), then the mean
      list.push({ data: points(p.xs, s[1]), borderColor: BAND_COLOURS[k], borderWidth: 1, fill: false });
      list.push({ data: points(p.xs, s[2]), borderColor: BAND_COLOURS[k], borderWidth: 1,
                  backgroundColor: BAND_COLOURS[k], fill: "-1" });
      list.push({ data: points(p.xs, s[0]), borderColor: LINE_COLOURS[k], borderWidth: 2, fill: false });
    });
    list.push({ data: [{ x: p.xMin, y: p.limit }, { x: p.xMax, y: p.limit }],
                borderColor: LIMIT_COLOUR, borderWidth: 1.8, fill: false });
    // higher order is painted earlier, so keep the push order as paint order
    var n = list.length;
    list.forEach(function (d, i) {
      d.order = n - i;
      d.pointRadius = 0;
      d.tension = 0;
    });
    return list;
  }

  function axis(min, max, ticks, isX) {
    return {
      type: "linear",
      min: min,
      max: max,
      afterBuildTicks: fixedTicks(ticks),
      afterFit: function (scale) {
        if (isX) { scale.height = 22; } else { scale.width = 38; }
      },
      grid: { display: true, drawOnChartArea: false, drawTicks: true, tickLength: 4,
              color: AXIS_COLOUR, tickColor: AXIS_COLOUR, tickWidth: 1 },
      border: { display: false },
      ticks: {
        autoSkip: false, maxRotation: 0, minRotation: 0,
        padding: isX ? 2 : 4,
        color: AXIS_COLOUR, font: TICK_FONT,
        callback: function (v) { return String(v); }
      }
    };
  }

  function addLegend(pos) {
    var box = document.createElement("div");
    box.className = "legend";
    box.style.left = pos[0] + "px";
    box.style.top = pos[1] + "px";
    ALGORITHMS.forEach(function (name, k) {
      var row = document.createElement("div");
      row.className = "row";
      var sw = document.createElement("span");
      sw.className = "swatch";
      sw.style.backgroundColor = LINE_COLOURS[k];
      var label = document.createElement("span");
      label.textContent = name;
      row.appendChild(sw);
      row.appendChild(label);
      box.appendChild(row);
    });
    document.body.appendChild(box);
  }

  function addCaption(p) {
    var cap = document.createElement("div");
    cap.className = "caption";
    cap.textContent = p.caption;
    cap.style.left = (p.left === 0 ? 53 : 503) + "px";
    cap.style.top = p.capY + "px";
    document.body.appendChild(cap);
  }

  // ---------- Build ----------
  PANELS.forEach(function (p) {
    var canvas = document.createElement("canvas");
    canvas.className = "panel";
    canvas.width = 390;
    canvas.height = p.height;
    canvas.style.left = p.left + "px";
    canvas.style.top = p.top + "px";
    document.body.appendChild(canvas);

    new Chart(canvas.getContext("2d"), {
      type: "line",
      data: { datasets: buildDatasets(p) },
      options: {
        responsive: false,
        animation: false,
        events: [],
        layout: { padding: { top: 8, right: 8, left: 0, bottom: 0 } },
        plugins: { legend: { display: false }, tooltip: { enabled: false } },
        scales: {
          x: axis(p.xMin, p.xMax, p.xTicks, true),
          y: axis(p.yMin, p.yMax, p.yTicks, false)
        }
      },
      plugins: [framePlugin]
    });

    addLegend(p.legend);
    addCaption(p);
  });
})();
</script>
</body>
</html>
